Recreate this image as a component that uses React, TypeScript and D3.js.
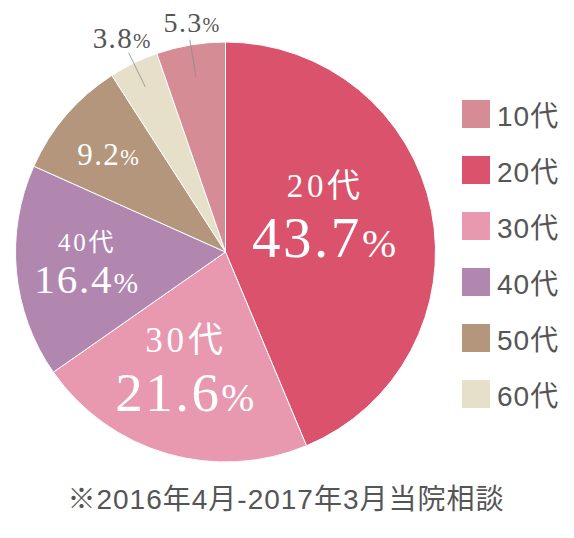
import React from 'react';
import * as d3 from 'd3';

// legend order
const ageGroups = ['10代', '20代', '30代', '40代', '50代', '60代'];
const shares = [5.3, 43.7, 21.6, 16.4, 9.2, 3.8];
const colors = ['#d68c95', '#da526b', '#e899b0', '#b187b0', '#b3967c', '#e6dfca'];
// order of the slices, clockwise from 12 o'clock
const sliceOrder = ['20代', '30代', '40代', '50代', '60代', '10代'];
const footnote = '※2016年4月-2017年3月当院相談';

type LabelLayout = {
  r: number; // fraction of radius for the anchor
  dx?: number;
  inside: boolean;
  showAge: boolean;
  ageSize?: number;
  ageDy?: number;
  pctSize: number;
  pctDy: number;
  leader?: [number, number];
};

const labelLayout: Record<string, LabelLayout> = {
  '20代': { r: 0.47, dx: 3, inside: true, showAge: true, ageSize: 33, ageDy: -36, pctSize: 57, pctDy: 24 },
  '30代': { r: 0.674, inside: true, showAge: true, ageSize: 35, ageDy: -36, pctSize: 55, pctDy: 23 },
  '40代': { r: 0.662, inside: true, showAge: true, ageSize: 25, ageDy: -14, pctSize: 41, pctDy: 28 },
  '50代': { r: 0.733, inside: true, showAge: false, pctSize: 31, pctDy: 13 },
  '60代': { r: 1.125, inside: false, showAge: false, pctSize: 29, pctDy: 8, leader: [0.875, 1.055] },
  '10代': { r: 1.105, dx: 5, inside: false, showAge: false, pctSize: 28, pctDy: 9, leader: [0.845, 1.025] },
};

const W = 574;
const H = 538;
const cx = 225.5;
const cy = 252;
const radius = 210;

const serif = '"Liberation Serif", "Times New Roman", "Noto Sans CJK JP", serif';
const sans = '"Liberation Sans", Arial, "Noto Sans CJK JP", sans-serif';

const App = () => {
  const color = d3.scaleOrdinal<string, string>().domain(ageGroups).range(colors);
  const shareOf = (g: string) => shares[ageGroups.indexOf(g)];

  const pie = d3.pie<string>()
    .sort(null)
    .value((g) => shareOf(g));
  const arcs = pie(sliceOrder);

  const arc = d3.arc<d3.PieArcDatum<string>>()
    .innerRadius(0)
    .outerRadius(radius);

  const polar = (angle: number, r: number) => [Math.sin(angle) * r, -Math.cos(angle) * r];

  const legendY = d3.scaleBand<string>()
    .domain(ageGroups)
    .range([100, 100 + 56 * ageGroups.length]);

  return (
    <div style={{ position: 'absolute', left: 0, top: 0 }}>
      <svg width={W} height={H} style={{ display: 'block' }}>
        <g transform={`translate(${cx}, ${cy})`}>
          {arcs.map((a) => (
            <path key={a.data} d={arc(a) as string} fill={color(a.data)} stroke="#fff" strokeWidth={1} />
          ))}
          {arcs.map((a) => {
            const lay = labelLayout[a.data];
            const mid = (a.startAngle + a.endAngle) / 2;
            const [x, y] = polar(mid, radius * lay.r);
            const fill = lay.inside ? '#fff' : '#555';
            const pct = shareOf(a.data).toFixed(1);
            let leader = null;
            if (lay.leader) {
              const [x1, y1] = polar(mid, radius * lay.leader[0]);
              const [x2, y2] = polar(mid, radius * lay.leader[1]);
              leader = <line x1={x1} y1={y1} x2={x2} y2={y2} stroke="#8a8a8a" strokeWidth={0.8} />;
            }
            return (
              <g key={`lab-${a.data}`}>
                {leader}
                <g transform={`translate(${x + (lay.dx || 0)}, ${y})`} fill={fill} fontFamily={serif} textAnchor="middle">
                  {lay.showAge && (
                    <text y={lay.ageDy} fontSize={lay.ageSize} letterSpacing={(lay.ageSize || 0) * 0.11}>{a.data}</text>
                  )}
                  <text y={lay.pctDy} fontSize={lay.pctSize} letterSpacing={lay.pctSize * 0.045}>
                    {pct}
                    <tspan fontSize={lay.pctSize * 0.72}>%</tspan>
                  </text>
                </g>
              </g>
            );
          })}
        </g>
        <g>
          {ageGroups.map((g) => (
            <g key={`leg-${g}`} transform={`translate(462, ${legendY(g)})`}>
              <rect width={28} height={28} fill={color(g)} />
              <text x={35} y={25.5} fontSize={28} fontFamily={sans} fill="#555" letterSpacing={1}>{g}</text>
            </g>
          ))}
        </g>
        <text x={286} y={509} textAnchor="middle" fontSize={28} fontFamily={sans} fill="#555" letterSpacing={1}>
          {footnote}
        </text>
      </svg>
    </div>
  );
};

export default App;
